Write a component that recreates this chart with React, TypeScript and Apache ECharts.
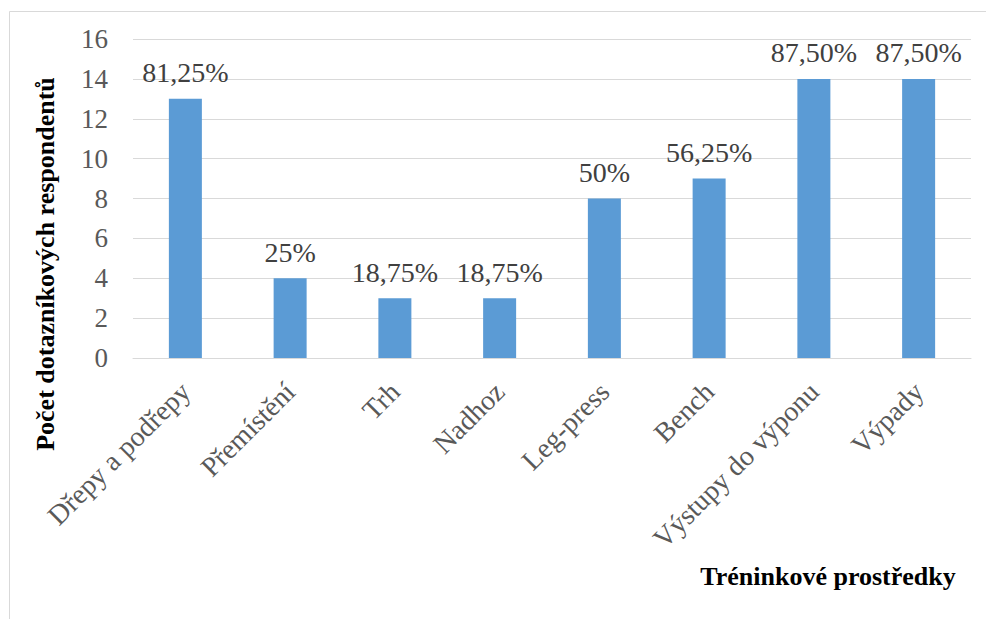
import React, { useEffect, useRef } from "react";
import * as echarts from "echarts";

const categories = [
  "Dřepy a podřepy",
  "Přemístění",
  "Trh",
  "Nadhoz",
  "Leg-press",
  "Bench",
  "Výstupy do výponu",
  "Výpady",
];
const counts = [13, 4, 3, 3, 8, 9, 14, 14];
const percentLabels = ["81,25%", "25%", "18,75%", "18,75%", "50%", "56,25%", "87,50%", "87,50%"];
const yTitle = "Počet dotazníkových respondentů";
const xTitle = "Tréninkové prostředky";

const FONT = "Liberation Serif";

export default function App() {
  const ref = useRef<HTMLDivElement>(null);
  useEffect(() => {
    if (!ref.current) return;
    const chart = echarts.init(ref.current, null, { renderer: "svg" });
    chart.setOption({
      animation: false,
      backgroundColor: "#ffffff",
      textStyle: { fontFamily: FONT },
      grid: { left: 133, right: 15, top: 39, bottom: 261, containLabel: false },
      xAxis: {
        type: "category",
        data: categories,
        axisLine: { show: true, lineStyle: { color: "#d9d9d9", width: 1 } },
        axisTick: { show: false },
        axisLabel: {
          rotate: 45,
          interval: 0,
          margin: 29,
          align: "right",
          verticalAlign: "middle",
          fontFamily: FONT,
          fontSize: 28,
          color: "#595959",
        },
      },
      yAxis: {
        type: "value",
        min: 0,
        max: 16,
        interval: 2,
        axisLine: { show: false },
        axisTick: { show: false },
        splitLine: { lineStyle: { color: "#d9d9d9", width: 1 } },
        axisLabel: {
          margin: 25,
          fontFamily: FONT,
          fontSize: 27,
          color: "#595959",
        },
      },
      series: [
        {
          type: "bar",
          data: counts,
          barWidth: 33,
          itemStyle: { color: "#5b9bd5" },
          label: {
            show: true,
            position: "top",
            distance: 12,
            fontFamily: FONT,
            fontSize: 28,
            color: "#404040",
            formatter: (p: any) => percentLabels[p.dataIndex],
          },
        },
      ],
      graphic: [
        {
          type: "line",
          shape: { x1: 9.5, y1: 11.5, x2: 986, y2: 11.5 },
          style: { stroke: "#d9d9d9", lineWidth: 1 },
        },
        {
          type: "line",
          shape: { x1: 9.5, y1: 11.5, x2: 9.5, y2: 619 },
          style: { stroke: "#d9d9d9", lineWidth: 1 },
        },
        {
          type: "text",
          x: 45,
          y: 264,
          rotation: Math.PI / 2,
          style: {
            text: yTitle,
            fontFamily: FONT,
            fontWeight: "bold",
            fontSize: 26,
            fill: "#000000",
            align: "center",
            verticalAlign: "middle",
          },
        },
        {
          type: "text",
          x: 828,
          y: 576,
          style: {
            text: xTitle,
            fontFamily: FONT,
            fontWeight: "bold",
            fontSize: 26,
            fill: "#000000",
            align: "center",
            verticalAlign: "middle",
          },
        },
      ],
    });
    return () => chart.dispose();
  }, []);
  return (
    <div
      ref={ref}
      style={{ position: "fixed", left: 0, top: 0, width: 986, height: 619 }}
    />
  );
}
